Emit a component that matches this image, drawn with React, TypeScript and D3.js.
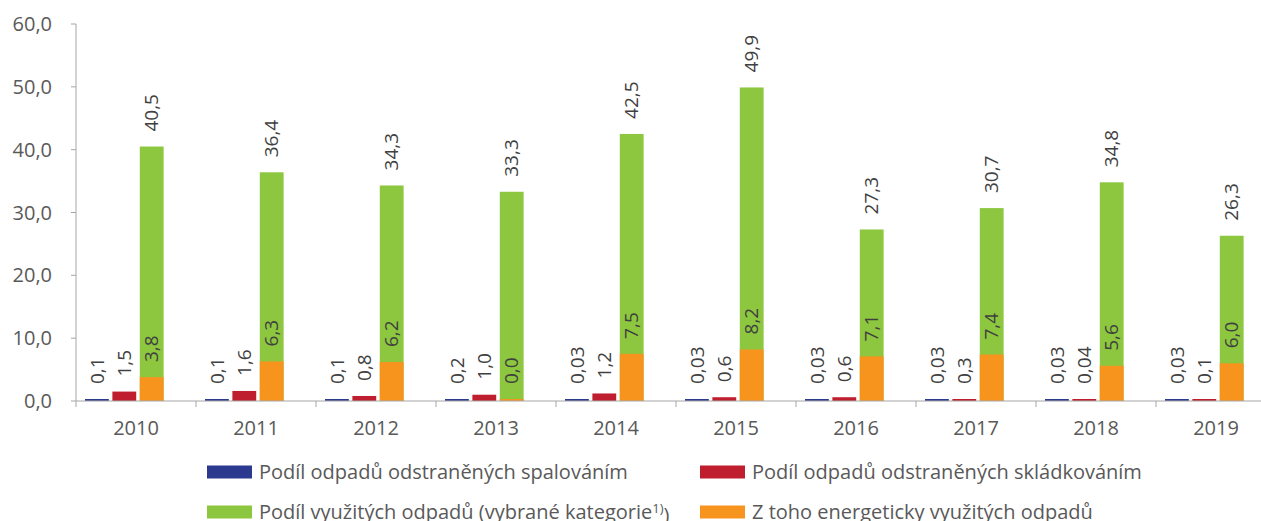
import { useEffect, useRef } from "react";
import * as d3 from "d3";

// Years on the x axis
const YEARS = ["2010", "2011", "2012", "2013", "2014", "2015", "2016", "2017", "2018", "2019"];

// Series values (percent)
const SPALOVANI = [0.1, 0.1, 0.1, 0.2, 0.03, 0.03, 0.03, 0.03, 0.03, 0.03];
const SKLADKOVANI = [1.5, 1.6, 0.8, 1.0, 1.2, 0.6, 0.6, 0.3, 0.04, 0.1];
const VYUZITE = [40.5, 36.4, 34.3, 33.3, 42.5, 49.9, 27.3, 30.7, 34.8, 26.3];
const ENERGETICKY = [3.8, 6.3, 6.2, 0.0, 7.5, 8.2, 7.1, 7.4, 5.6, 6.0];

// Label strings as printed (keeps 0,03 / 0,04 precision)
const SPALOVANI_LBL = ["0,1", "0,1", "0,1", "0,2", "0,03", "0,03", "0,03", "0,03", "0,03", "0,03"];
const SKLADKOVANI_LBL = ["1,5", "1,6", "0,8", "1,0", "1,2", "0,6", "0,6", "0,3", "0,04", "0,1"];

const Y_TICKS = [0, 10, 20, 30, 40, 50, 60];

const LEGEND = [
  { label: "Podíl odpadů odstraněných spalováním", color: "#2B3A8E" },
  { label: "Podíl odpadů odstraněných skládkováním", color: "#BE1E2D" },
  { label: "Podíl využitých odpadů (vybrané kategorie", sup: "1)", tail: ")", color: "#8DC63F" },
  { label: "Z toho energeticky využitých odpadů", color: "#F7941D" },
];

const fmt = (v: number) => v.toFixed(1).replace(".", ",");

export default function App() {
  const svgRef = useRef<SVGSVGElement>(null);

  useEffect(() => {
    const width = 1261;
    const height = 521;
    const font = "'Open Sans', sans-serif";

    const svg = d3.select(svgRef.current);
    svg.selectAll("*").remove();
    svg.attr("width", width).attr("height", height);

    // ----- Scales -----
    const x = d3.scaleBand<string>().domain(YEARS).range([76, 1276]);
    const slot = d3.scaleBand<string>()
      .domain(["spal", "skl", "vyu", "empty"])
      .range([9, 115])
      .paddingInner(0.13);
    const y = d3.scaleLinear().domain([0, 60]).range([401, 24]);

    const g = svg.append("g");

    // ----- Y axis -----
    g.append("line")
      .attr("x1", 76).attr("x2", 76)
      .attr("y1", y(60)).attr("y2", y(0))
      .attr("stroke", "#A6A6A6").attr("stroke-width", 1);
    Y_TICKS.forEach((t) => {
      g.append("line")
        .attr("x1", 71).attr("x2", 76)
        .attr("y1", y(t)).attr("y2", y(t))
        .attr("stroke", "#A6A6A6");
      g.append("text")
        .attr("x", 52).attr("y", y(t))
        .attr("dy", "0.35em")
        .attr("text-anchor", "end")
        .attr("font-family", font).attr("font-size", 20)
        .attr("fill", "#595959")
        .text(fmt(t));
    });

    // ----- Bars -----
    const bar = (vals: number[], key: string, color: string) => {
      g.selectAll(null)
        .data(vals)
        .enter()
        .append("rect")
        .attr("x", (_, i) => x(YEARS[i])! + slot(key)!)
        .attr("width", slot.bandwidth())
        .attr("y", (d) => Math.min(y(d), y(0) - 2))
        .attr("height", (d) => Math.max(y(0) - y(d), 2))
        .attr("fill", color);
    };
    bar(SPALOVANI, "spal", LEGEND[0].color);
    bar(SKLADKOVANI, "skl", LEGEND[1].color);
    bar(VYUZITE, "vyu", LEGEND[2].color);
    bar(ENERGETICKY, "vyu", LEGEND[3].color);

    // ----- X axis -----
    g.append("line")
      .attr("x1", 76).attr("x2", width)
      .attr("y1", y(0)).attr("y2", y(0))
      .attr("stroke", "#A6A6A6");
    YEARS.forEach((yr) => {
      const x0 = x(yr)!;
      g.append("line")
        .attr("x1", x0).attr("x2", x0)
        .attr("y1", y(0)).attr("y2", y(0) + 6)
        .attr("stroke", "#A6A6A6");
      g.append("text")
        .attr("x", x0 + x.bandwidth() / 2).attr("y", 435)
        .attr("text-anchor", "middle")
        .attr("font-family", font).attr("font-size", 20)
        .attr("fill", "#595959")
        .text(yr);
    });

    // ----- Data labels (rotated) -----
    const labels = (vals: number[], txt: string[], key: string) => {
      vals.forEach((v, i) => {
        const cx = x(YEARS[i])! + slot(key)! + slot.bandwidth() / 2;
        const top = Math.min(y(v), y(0) - 2);
        g.append("text")
          .attr("transform", `translate(${cx},${top - 15}) rotate(-90)`)
          .attr("dy", "0.35em")
          .attr("text-anchor", "start")
          .attr("font-family", font).attr("font-size", 19)
          .attr("fill", "#404040")
          .text(txt[i]);
      });
    };
    labels(SPALOVANI, SPALOVANI_LBL, "spal");
    labels(SKLADKOVANI, SKLADKOVANI_LBL, "skl");
    labels(VYUZITE, VYUZITE.map(fmt), "vyu");
    labels(ENERGETICKY, ENERGETICKY.map(fmt), "vyu");

    // ----- Legend (two rows, second row cut by the bottom edge) -----
    LEGEND.forEach((d, i) => {
      const lx = i % 2 === 0 ? 207 : 700;
      const ly = i < 2 ? 472 : 512;
      const row = svg.append("g").attr("transform", `translate(${lx},${ly})`);
      row.append("rect")
        .attr("x", 0).attr("y", -6.5)
        .attr("width", 45).attr("height", 13)
        .attr("fill", d.color);
      const t = row.append("text")
        .attr("x", 52).attr("y", 0)
        .attr("dy", "0.35em")
        .attr("font-family", font).attr("font-size", 20)
        .attr("fill", "#595959");
      t.append("tspan").text(d.label);
      if (d.sup) {
        t.append("tspan").attr("dy", "-0.45em").attr("font-size", 13).text(d.sup);
        t.append("tspan").attr("dy", "0.45em").text(d.tail!);
      }
    });
  }, []);

  return (
    <div style={{ position: "absolute", left: 0, top: 0 }}>
      <svg ref={svgRef} style={{ display: "block" }}></svg>
    </div>
  );
}
